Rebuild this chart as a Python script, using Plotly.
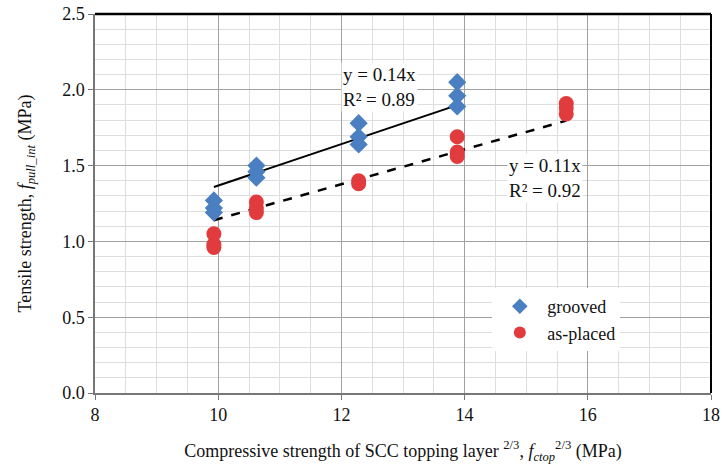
import numpy as np
import plotly.graph_objects as go

grooved_x = [9.93, 9.93, 9.93, 10.62, 10.62, 10.62, 12.28, 12.28, 12.28, 13.88, 13.88, 13.88]
grooved_y = [1.27, 1.22, 1.19, 1.50, 1.46, 1.42, 1.78, 1.69, 1.64, 2.05, 1.96, 1.89]
placed_x = [9.93, 9.93, 9.93, 10.62, 10.62, 10.62, 12.28, 12.28, 13.88, 13.88, 13.88, 15.65, 15.65, 15.65]
placed_y = [1.05, 0.98, 0.96, 1.26, 1.22, 1.19, 1.40, 1.38, 1.69, 1.59, 1.56, 1.91, 1.88, 1.84]
eq_grooved = "y = 0.14x<br>R² = 0.89"
eq_placed = "y = 0.11x<br>R² = 0.92"

def fit0(xs, ys):
    xs = np.array(xs); ys = np.array(ys)
    return float((xs * ys).sum() / (xs * xs).sum())

kg = fit0(grooved_x, grooved_y)
kp = fit0(placed_x, placed_y)
gx = [min(grooved_x), max(grooved_x)]
px = [min(placed_x), max(placed_x)]

SERIF = "Liberation Serif"

fig = go.Figure()
fig.add_trace(go.Scatter(x=gx, y=[kg * v for v in gx], mode="lines",
                         line=dict(color="black", width=2), showlegend=False))
fig.add_trace(go.Scatter(x=px, y=[kp * v for v in px], mode="lines",
                         line=dict(color="black", width=2.5, dash="dash"), showlegend=False))
fig.add_trace(go.Scatter(x=grooved_x, y=grooved_y, mode="markers", name="grooved",
                         marker=dict(symbol="diamond", size=14, color="#4a7fc1")))
fig.add_trace(go.Scatter(x=placed_x, y=placed_y, mode="markers", name="as-placed",
                         marker=dict(symbol="circle", size=15, color="#e23b3d")))

fig.add_annotation(x=12.62, y=2.02, text=eq_grooved, showarrow=False, align="left",
                   bgcolor="white", font=dict(size=19, color="#111", family=SERIF))
fig.add_annotation(x=15.3, y=1.42, text=eq_placed, showarrow=False, align="left",
                   bgcolor="white", font=dict(size=19, color="#111", family=SERIF))

# top and right frame lines (black), left/bottom axis lines gray
fig.add_shape(type="line", xref="paper", yref="paper", x0=0, x1=1, y0=1, y1=1,
              line=dict(color="black", width=2.5))
fig.add_shape(type="line", xref="paper", yref="paper", x0=1, x1=1, y0=0, y1=1,
              line=dict(color="black", width=2))

axis_common = dict(showline=True, linecolor="#777", linewidth=1.5, mirror=False,
                   gridcolor="#a0a0a0", gridwidth=1, zeroline=False, automargin=False,
                   ticks="outside", ticklen=5, tickcolor="#777",
                   tickfont=dict(size=18, color="#111", family=SERIF))
fig.update_xaxes(range=[8, 18], dtick=2, tick0=8,
                 minor=dict(dtick=0.5, showgrid=True, gridcolor="#dedede", gridwidth=1),
                 title=dict(text="Compressive strength of SCC topping layer <sup>2/3</sup>, <i>f</i><sub><i>ctop</i></sub><sup>2/3</sup> (MPa)",
                            font=dict(size=18, color="#111", family=SERIF), standoff=20),
                 **axis_common)
fig.update_yaxes(range=[0, 2.5], dtick=0.5, tick0=0, tickformat=".1f",
                 minor=dict(dtick=0.1, showgrid=True, gridcolor="#dedede", gridwidth=1),
                 title=dict(text="Tensile strength, <i>f</i><sub><i>pull_int</i></sub> (MPa)",
                            font=dict(size=18, color="#111", family=SERIF), standoff=26),
                 **axis_common)
fig.update_layout(width=723, height=469, margin=dict(l=95, r=12, t=14, b=76),
                  paper_bgcolor="white", plot_bgcolor="white",
                  font=dict(family=SERIF, color="#111"),
                  legend=dict(x=0.645, y=0.277, xanchor="left", yanchor="top",
                              bgcolor="white", font=dict(size=18, color="#111", family=SERIF),
                              itemsizing="constant", itemwidth=45))
fig.write_html("out.html", config={"displayModeBar": False},
               post_script="document.body.style.margin='0';document.body.style.overflow='hidden';")
